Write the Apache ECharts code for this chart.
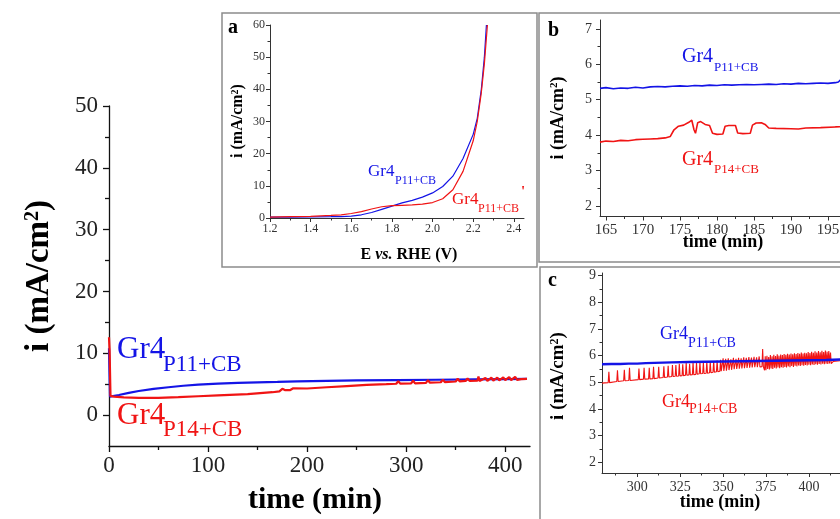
<!DOCTYPE html>
<html>
<head>
<meta charset="utf-8">
<script src="https://cdn.jsdelivr.net/npm/echarts@6/dist/echarts.min.js"></script>
<style>
  html, body { margin: 0; padding: 0; background: #fff; }
  #chart { width: 840px; height: 519px; }
</style>
</head>
<body>
<div id="chart"></div>
<script>
const SERIF = '"Liberation Serif", "Times New Roman", serif'
const BLUE = '#1414e6'
const RED = '#f01414'

// main panel: chronoamperometry, i vs time
const mainXTicks = [0, 100, 200, 300, 400]
const mainXMinor = [50, 150, 250, 350]
const mainYTicks = [0, 10, 20, 30, 40, 50]
const mainYMinor = [5, 15, 25, 35, 45]
const mainBlue = [[0, 10.8], [1, 3.0], [3, 3.0], [10, 3.25], [20, 3.6], [30, 3.9], [45, 4.25], [60, 4.5], [75, 4.75], [90, 4.92], [110, 5.1], [130, 5.22], [150, 5.3], [170, 5.36], [190, 5.45], [220, 5.55], [250, 5.6], [290, 5.66], [330, 5.72], [370, 5.78], [400, 5.82], [422, 5.86]]
const mainRed = [[0, 12.6], [0.6, 10.5], [1.5, 3.1], [5, 3.0], [15, 2.88], [30, 2.8], [50, 2.8], [70, 2.9], [90, 3.05], [110, 3.2], [140, 3.4], [165, 3.7], [172, 3.85], [174, 3.95], [175, 4.25], [177, 4.35], [177.5, 4.05], [178.5, 4.35], [180, 4.05], [181.5, 4.28], [183, 4.05], [185, 4.05], [186, 4.33], [188, 4.2], [200, 4.3], [220, 4.5], [240, 4.7], [260, 4.9], [280, 5.0], [290, 5.07], [292, 5.5], [294, 5.08], [305, 5.12], [307, 5.55], [309, 5.14], [320, 5.22], [322, 5.65], [324, 5.24], [335, 5.31], [337, 5.75], [339, 5.33], [350, 5.43], [352, 5.9], [354, 5.46], [360, 5.52], [362, 5.92], [364, 5.54], [372, 5.59], [373, 6.25], [374, 5.5], [380, 6.0], [382, 5.55], [386, 6.05], [388, 5.58], [392, 6.08], [394, 5.6], [398, 6.1], [400, 5.65], [404, 6.15], [406, 5.67], [410, 6.17], [412, 5.7], [416, 5.82], [422, 5.86]]

// inset a: polarisation curves, i vs E
const aXTicks = [1.2, 1.4, 1.6, 1.8, 2.0, 2.2, 2.4]
const aXMinor = [1.3, 1.5, 1.7, 1.9, 2.1, 2.3]
const aYTicks = [0, 10, 20, 30, 40, 50, 60]
const aYMinor = [5, 15, 25, 35, 45, 55]
const aBlue = [[1.2, 0.3], [1.3, 0.3], [1.4, 0.35], [1.5, 0.4], [1.55, 0.45], [1.6, 0.6], [1.65, 1.0], [1.7, 1.7], [1.75, 2.7], [1.8, 3.7], [1.85, 4.7], [1.9, 5.5], [1.95, 6.5], [2.0, 7.8], [2.05, 9.8], [2.1, 13], [2.15, 18.5], [2.2, 26], [2.22, 31], [2.24, 40], [2.255, 50], [2.265, 60]]
const aRed = [[1.2, 0.3], [1.3, 0.4], [1.4, 0.5], [1.5, 0.8], [1.55, 1.0], [1.6, 1.4], [1.65, 2.0], [1.7, 2.8], [1.75, 3.5], [1.8, 3.85], [1.85, 3.95], [1.9, 4.05], [1.95, 4.3], [2.0, 4.8], [2.05, 6.0], [2.1, 8.8], [2.15, 14.5], [2.2, 24], [2.22, 30], [2.24, 39], [2.255, 48], [2.27, 60]]

// inset b: zoom 165-200 min
const bXTicks = [165, 170, 175, 180, 185, 190, 195, 200]
const bXMinor = [167.5, 172.5, 177.5, 182.5, 187.5, 192.5, 197.5]
const bYTicks = [2, 3, 4, 5, 6, 7]
const bYMinor = [2.5, 3.5, 4.5, 5.5, 6.5]
const bBlue = [[164.2, 5.32], [165, 5.34], [166, 5.31], [167, 5.33], [168, 5.32], [169, 5.35], [170, 5.33], [171, 5.36], [172, 5.37], [173, 5.36], [174, 5.38], [175, 5.39], [176, 5.38], [177, 5.4], [178, 5.39], [179, 5.41], [180, 5.4], [181, 5.42], [182, 5.41], [183, 5.42], [184, 5.43], [185, 5.42], [186, 5.43], [187, 5.44], [188, 5.43], [189, 5.45], [190, 5.44], [191, 5.46], [192, 5.45], [193, 5.46], [194, 5.47], [195, 5.46], [196, 5.48], [196.4, 5.5], [196.7, 5.56], [198, 5.57]]
const bRed = [[164.2, 3.8], [165, 3.83], [166, 3.82], [167, 3.85], [168, 3.84], [169, 3.87], [170, 3.88], [171, 3.89], [172, 3.9], [173, 3.92], [173.7, 3.96], [174.2, 4.15], [174.8, 4.25], [175.5, 4.28], [176.2, 4.36], [176.6, 4.42], [176.9, 4.15], [177.1, 4.05], [177.4, 4.35], [177.8, 4.38], [178.4, 4.3], [179, 4.27], [179.4, 4.05], [180, 4.02], [180.8, 4.03], [181.1, 4.25], [181.6, 4.27], [182.5, 4.27], [182.8, 4.06], [183.5, 4.04], [184.5, 4.05], [184.8, 4.28], [185.3, 4.34], [186, 4.35], [186.5, 4.3], [187, 4.2], [188, 4.19], [190, 4.18], [191, 4.17], [192, 4.2], [194, 4.21], [196, 4.23], [198, 4.24]]

// inset c: zoom 280-425 min
const cXTicks = [300, 325, 350, 375, 400, 425]
const cXMinor = [287.5, 312.5, 337.5, 362.5, 387.5, 412.5]
const cYTicks = [2, 3, 4, 5, 6, 7, 8, 9]
const cYMinor = [2.5, 3.5, 4.5, 5.5, 6.5, 7.5, 8.5]
const cBlue = [[279.5, 5.68], [285, 5.69], [290, 5.69], [295, 5.7], [300, 5.7], [305, 5.72], [310, 5.73], [320, 5.75], [330, 5.76], [340, 5.77], [350, 5.78], [360, 5.79], [370, 5.8], [380, 5.81], [390, 5.82], [400, 5.83], [410, 5.84], [420, 5.86], [425, 5.87]]
// red spikes: [time, level between spikes, spike top]
const cRedSpikes = [[283.5, 4.99, 5.4], [288.5, 5.03, 5.45], [292.5, 5.06, 5.47], [295.5, 5.07, 5.55], [301, 5.1, 5.52], [304, 5.12, 5.55], [307, 5.13, 5.55], [309.5, 5.14, 5.58], [312.5, 5.16, 5.58], [315.5, 5.18, 5.6], [318, 5.2, 5.62], [320.5, 5.22, 5.65], [322.5, 5.23, 5.65], [324.5, 5.24, 5.7], [326.5, 5.25, 5.68], [328.5, 5.27, 5.72], [330.5, 5.28, 5.7], [332.5, 5.29, 5.73], [334.5, 5.3, 5.72], [336.5, 5.32, 5.75], [338.5, 5.33, 5.73], [340.5, 5.34, 5.78], [342.5, 5.36, 5.76], [344.5, 5.38, 5.8], [346.5, 5.4, 5.82], [348.5, 5.42, 5.85], [350, 5.43, 5.9], [351.5, 5.44, 5.88], [353, 5.46, 5.9], [354.5, 5.47, 5.86], [356, 5.49, 5.92], [357.5, 5.5, 5.88], [359, 5.51, 5.92], [360.5, 5.52, 5.9], [362, 5.53, 5.94], [363.5, 5.54, 5.92], [365, 5.55, 5.95], [366.5, 5.56, 5.93], [368, 5.57, 5.96], [369.5, 5.57, 5.94], [371, 5.58, 5.97], [373, 5.59, 6.25], [374.5, 5.45, 5.98], [375.5, 5.5, 6.0], [376.5, 5.48, 5.95], [377.5, 5.52, 6.02], [378.5, 5.5, 5.98], [379.5, 5.55, 6.03], [380.5, 5.52, 5.99], [381.5, 5.56, 6.05], [382.5, 5.53, 6.0], [383.5, 5.57, 6.04], [384.5, 5.55, 6.02], [385.5, 5.58, 6.06], [386.5, 5.56, 6.03], [387.5, 5.6, 6.07], [388.5, 5.57, 6.04], [389.5, 5.61, 6.08], [390.5, 5.58, 6.05], [391.5, 5.62, 6.09], [392.5, 5.6, 6.06], [393.5, 5.63, 6.1], [394.5, 5.61, 6.07], [395.5, 5.64, 6.12], [396.5, 5.62, 6.08], [397.5, 5.65, 6.11], [398.5, 5.63, 6.09], [399.5, 5.66, 6.14], [400.5, 5.64, 6.1], [401.5, 5.67, 6.15], [402.5, 5.65, 6.11], [403.5, 5.68, 6.16], [404.5, 5.66, 6.12], [405.5, 5.69, 6.17], [406.5, 5.67, 6.13], [407.5, 5.7, 6.18], [408.5, 5.68, 6.14], [409.5, 5.7, 6.19], [410.5, 5.69, 6.15], [411.5, 5.71, 6.17], [412.5, 5.7, 6.12]]
const cRedStart = [[279.5, 4.97], [281, 4.98]]
const cRedEnd = [[414, 5.78], [420, 5.82], [425, 5.84]]

const cRed = cRedStart.slice()
cRedSpikes.forEach(([t, lo, hi]) => {
  cRed.push([t - 0.4, lo], [t, hi], [t + 0.4, lo])
})
cRedEnd.forEach(p => cRed.push(p))

function axisPair (dim, gridIndex, min, max, major, minor, o) {
  const base = {
    type: 'value',
    gridIndex,
    min,
    max,
    position: dim === 'x' ? 'bottom' : 'left',
    offset: 0,
    splitLine: { show: false }
  }
  const line = { color: o.line, width: o.lw }
  return [
    {
      ...base,
      axisLine: { show: true, onZero: false, lineStyle: line },
      axisTick: { show: true, length: o.tick, customValues: major, lineStyle: line },
      axisLabel: {
        customValues: major,
        margin: o.margin,
        fontSize: o.font,
        fontFamily: SERIF,
        color: o.color,
        formatter: o.fmt || (v => String(v))
      }
    },
    {
      ...base,
      axisLine: { show: false, onZero: false },
      axisTick: { show: true, length: o.minor, customValues: minor, lineStyle: line },
      axisLabel: { show: false }
    }
  ]
}

const mainOpt = { line: '#111', lw: 1.3, tick: 6, minor: 4, font: 23, color: '#222' }
const insetOpt = { line: '#333', lw: 1, tick: 4, minor: 2.5, font: 12, color: '#333' }

const xAxes = [
  ...axisPair('x', 0, 0, 425, mainXTicks, mainXMinor, { ...mainOpt, margin: 8 }),
  ...axisPair('x', 1, 1.2, 2.45, aXTicks, aXMinor, { ...insetOpt, margin: 5, fmt: v => v.toFixed(1) }),
  ...axisPair('x', 2, 164.2, 200, bXTicks, bXMinor, { ...insetOpt, font: 15, margin: 6 }),
  ...axisPair('x', 3, 279.5, 425, cXTicks, cXMinor, { ...insetOpt, font: 14, margin: 7 })
]
const yAxes = [
  ...axisPair('y', 0, -5, 50, mainYTicks, mainYMinor, { ...mainOpt, margin: 11 }),
  ...axisPair('y', 1, 0, 60, aYTicks, aYMinor, { ...insetOpt, margin: 5 }),
  ...axisPair('y', 2, 1.7, 7.25, bYTicks, bYMinor, { ...insetOpt, font: 14, margin: 8 }),
  ...axisPair('y', 3, 1.6, 9.1, cYTicks, cYMinor, { ...insetOpt, font: 14, margin: 6 })
]

function line (data, color, width, grid, z) {
  return {
    type: 'line',
    data,
    xAxisIndex: grid * 2,
    yAxisIndex: grid * 2,
    showSymbol: false,
    symbol: 'none',
    z: z || 2,
    lineStyle: { color, width },
    itemStyle: { color }
  }
}

function txt (x, base, text, size, color, extra) {
  return {
    type: 'text',
    x,
    y: base - 0.34 * size,
    z: 10,
    style: Object.assign({ text, fontSize: size, fontFamily: SERIF, fill: color, align: 'left', verticalAlign: 'middle' }, extra || {})
  }
}

// "Gr4" with subscript
function gr4 (x, base, size, sub, subX, subBase, subSize, color) {
  return [txt(x, base, 'Gr4', size, color), txt(subX, subBase, sub, subSize, color)]
}

function yTitle (x, y, size, supSize) {
  return {
    type: 'text',
    x,
    y,
    rotation: Math.PI / 2,
    z: 10,
    style: {
      text: '{b|i (mA/cm}{s|2}{b|)}',
      align: 'center',
      verticalAlign: 'middle',
      rich: {
        b: { fontSize: size, fontWeight: 'bold', fontFamily: SERIF, fill: '#000', verticalAlign: 'bottom' },
        s: { fontSize: supSize, fontWeight: 'bold', fontFamily: SERIF, fill: '#000', verticalAlign: 'top' }
      }
    }
  }
}

function box (x, y, w, h) {
  return { type: 'rect', z: 0, shape: { x, y, width: w, height: h }, style: { fill: 'none', stroke: '#8c8c8c', lineWidth: 1.5 } }
}

const chart = echarts.init(document.getElementById('chart'), null, { renderer: 'canvas' })
chart.setOption({
  animation: false,
  backgroundColor: '#fff',
  grid: [
    { left: 109, top: 106, width: 421, height: 340, containLabel: false, outerBoundsMode: 'none' },
    { left: 270, top: 25, width: 254, height: 193, containLabel: false, outerBoundsMode: 'none' },
    { left: 600, top: 20, width: 265, height: 196.5, containLabel: false, outerBoundsMode: 'none' },
    { left: 602, top: 273, width: 250, height: 200, containLabel: false, outerBoundsMode: 'none' }
  ],
  xAxis: xAxes,
  yAxis: yAxes,
  series: [
    line(mainBlue, BLUE, 2.2, 0, 2),
    line(mainRed, RED, 2.2, 0, 3),
    line(aBlue, BLUE, 1.2, 1),
    line(aRed, RED, 1.2, 1),
    line(bBlue, BLUE, 1.6, 2),
    line(bRed, RED, 1.6, 2),
    line(cRed, RED, 1.1, 3, 2),
    line(cBlue, BLUE, 2.4, 3, 3)
  ],
  graphic: [
    box(222, 13, 315, 254),
    box(539, 13, 330, 249),
    box(540, 267, 330, 270),
    // main labels and titles
    ...gr4(117, 360, 31, 'P11+CB', 163, 373, 23, BLUE),
    ...gr4(117, 426, 31, 'P14+CB', 163, 438, 23, RED),
    yTitle(39, 276, 33, 20),
    txt(315, 510, 'time (min)', 30, '#000', { align: 'center', fontWeight: 'bold' }),
    // inset a
    txt(228, 35, 'a', 20, '#000', { fontWeight: 'bold' }),
    yTitle(238, 121, 16, 10),
    {
      type: 'text',
      x: 409,
      y: 255,
      z: 10,
      style: {
        text: '{b|E }{i|vs.}{b| RHE (V)}',
        align: 'center',
        verticalAlign: 'middle',
        rich: {
          b: { fontSize: 16, fontWeight: 'bold', fontFamily: SERIF, fill: '#000' },
          i: { fontSize: 16, fontWeight: 'bold', fontStyle: 'italic', fontFamily: SERIF, fill: '#000' }
        }
      }
    },
    ...gr4(368, 177, 17, 'P11+CB', 395, 185, 12, BLUE),
    ...gr4(452, 205, 17, 'P11+CB', 478, 213, 12, RED),
    txt(521, 197, '\'', 15, RED, { fontWeight: 'bold' }),
    // inset b
    txt(548, 38, 'b', 20, '#000', { fontWeight: 'bold' }),
    yTitle(558, 118, 18, 11),
    txt(723, 248, 'time (min)', 18, '#000', { align: 'center', fontWeight: 'bold' }),
    ...gr4(682, 64, 20, 'P11+CB', 714, 72, 13, BLUE),
    ...gr4(682, 167, 20, 'P14+CB', 714, 174, 13, RED),
    // inset c
    txt(548, 288, 'c', 20, '#000', { fontWeight: 'bold' }),
    yTitle(558, 376, 19, 12),
    txt(720, 508, 'time (min)', 18, '#000', { align: 'center', fontWeight: 'bold' }),
    ...gr4(660, 340, 18, 'P11+CB', 688, 348, 14, BLUE),
    ...gr4(662, 408, 18, 'P14+CB', 689, 414, 14, RED)
  ]
})
</script>
</body>
</html>
